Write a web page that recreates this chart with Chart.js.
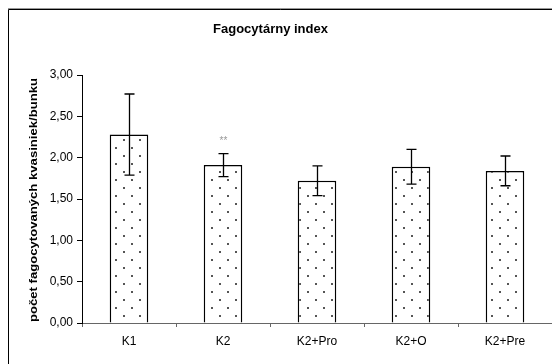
<!DOCTYPE html>
<html><head><meta charset="utf-8">
<script src="https://cdn.jsdelivr.net/npm/chart.js@4"></script>
<style>html,body{margin:0;padding:0;background:#fff;}#wrap{width:552px;height:364px;position:relative;}</style>
</head><body><div id="wrap"><canvas id="c" width="552" height="364"></canvas></div>
<script>
const categories = ["K1", "K2", "K2+Pro", "K2+O", "K2+Pre"];
const means = [2.28, 1.91, 1.72, 1.89, 1.84];
const errors = [0.49, 0.14, 0.18, 0.21, 0.18];
const marks = ["", "**", "", "", ""];
const yTicks = [0, 0.5, 1, 1.5, 2, 2.5, 3];
const chartTitle = "Fagocytárny index";
const yTitle = "počet fagocytovaných kvasiniek/bunku";

const FONT = "'Liberation Sans', Arial, sans-serif";

function makePattern() {
  const p = document.createElement('canvas');
  p.width = 16; p.height = 16;
  const g = p.getContext('2d');
  g.fillStyle = '#fff'; g.fillRect(0,0,16,16);
  g.fillStyle = '#555';
  g.fillRect(3,3,2,2);
  g.fillRect(11,11,2,2);
  return g.createPattern(p, 'repeat');
}

function fitText(ctx, text, cx, cy, targetW) {
  const w = ctx.measureText(text).width;
  const s = targetW / w;
  ctx.save();
  ctx.translate(cx, cy);
  ctx.scale(s, 1);
  ctx.fillText(text, 0, 0);
  ctx.restore();
}

const overlay = {
  id: 'overlay',
  beforeDraw(chart) {
    const ctx = chart.ctx;
    ctx.save();
    ctx.fillStyle = '#fff';
    ctx.fillRect(0,0,chart.width,chart.height);
    ctx.restore();
  },
  afterDatasetsDraw(chart) {
    const ctx = chart.ctx;
    const x = chart.scales.x, y = chart.scales.y;
    ctx.save();
    ctx.strokeStyle = '#000';
    ctx.lineWidth = 1.3;
    means.forEach((m, i) => {
      const cx = Math.round(x.getPixelForValue(i)) + 0.5;
      const yt = y.getPixelForValue(m + errors[i]);
      const yb = y.getPixelForValue(m - errors[i]);
      ctx.beginPath();
      ctx.moveTo(cx, yt); ctx.lineTo(cx, yb);
      ctx.moveTo(cx - 5, yt); ctx.lineTo(cx + 5, yt);
      ctx.moveTo(cx - 5, yb); ctx.lineTo(cx + 5, yb);
      ctx.stroke();
      if (marks[i]) {
        ctx.fillStyle = '#999';
        ctx.font = '10px ' + FONT;
        ctx.textAlign = 'center';
        ctx.textBaseline = 'middle';
        ctx.fillText(marks[i], cx, yt - 12);
      }
    });
    ctx.restore();
  },
  afterDraw(chart) {
    const ctx = chart.ctx;
    ctx.save();
    // frame
    ctx.strokeStyle = '#999';
    ctx.lineWidth = 1;
    ctx.beginPath(); ctx.moveTo(8, 8.5); ctx.lineTo(552, 8.5); ctx.stroke();
    ctx.strokeStyle = '#000';
    ctx.beginPath(); ctx.moveTo(8.5, 364); ctx.lineTo(8.5, 9.5); ctx.lineTo(552, 9.5); ctx.stroke();
    // title
    ctx.fillStyle = '#000';
    ctx.font = 'bold 12px ' + FONT;
    ctx.textAlign = 'center';
    ctx.textBaseline = 'middle';
    fitText(ctx, chartTitle, 270.5, 30, 115);
    // y title
    ctx.save();
    ctx.translate(34, 200);
    ctx.rotate(-Math.PI/2);
    ctx.font = 'bold 11px ' + FONT;
    fitText(ctx, yTitle, 0, 0, 244);
    ctx.restore();
    ctx.restore();
  }
};

new Chart(document.getElementById('c'), {
  type: 'bar',
  data: {
    labels: categories,
    datasets: [{
      data: means,
      backgroundColor: makePattern(),
      borderColor: '#000',
      borderWidth: 1.5,
      categoryPercentage: 1,
      barPercentage: 0.41
    }]
  },
  options: {
    responsive: false,
    animation: false,
    devicePixelRatio: 1,
    layout: { padding: { left: 8, top: 75, right: 0, bottom: 0 } },
    plugins: { legend: { display: false }, tooltip: { enabled: false }, title: { display: false } },
    scales: {
      x: {
        afterFit(s) { s.height = 41; },
        grid: { display: true, offset: true, drawOnChartArea: false, drawTicks: true, tickLength: 4, color: '#666' },
        border: { display: true, color: '#666', width: 1 },
        ticks: { color: '#000', font: { family: FONT, size: 12 }, padding: 7 }
      },
      y: {
        min: 0, max: 3,
        afterFit(s) { s.width = 74; },
        afterBuildTicks(s) { s.ticks = yTicks.map(v => ({ value: v })); },
        grid: { display: true, drawOnChartArea: false, drawTicks: true, tickLength: 5, color: '#000' },
        border: { display: true, color: '#000', width: 1 },
        ticks: {
          color: '#000', font: { family: FONT, size: 12 }, padding: 4,
          callback: v => v.toFixed(2).replace('.', ',')
        }
      }
    }
  },
  plugins: [overlay]
});
</script>
</body></html>
